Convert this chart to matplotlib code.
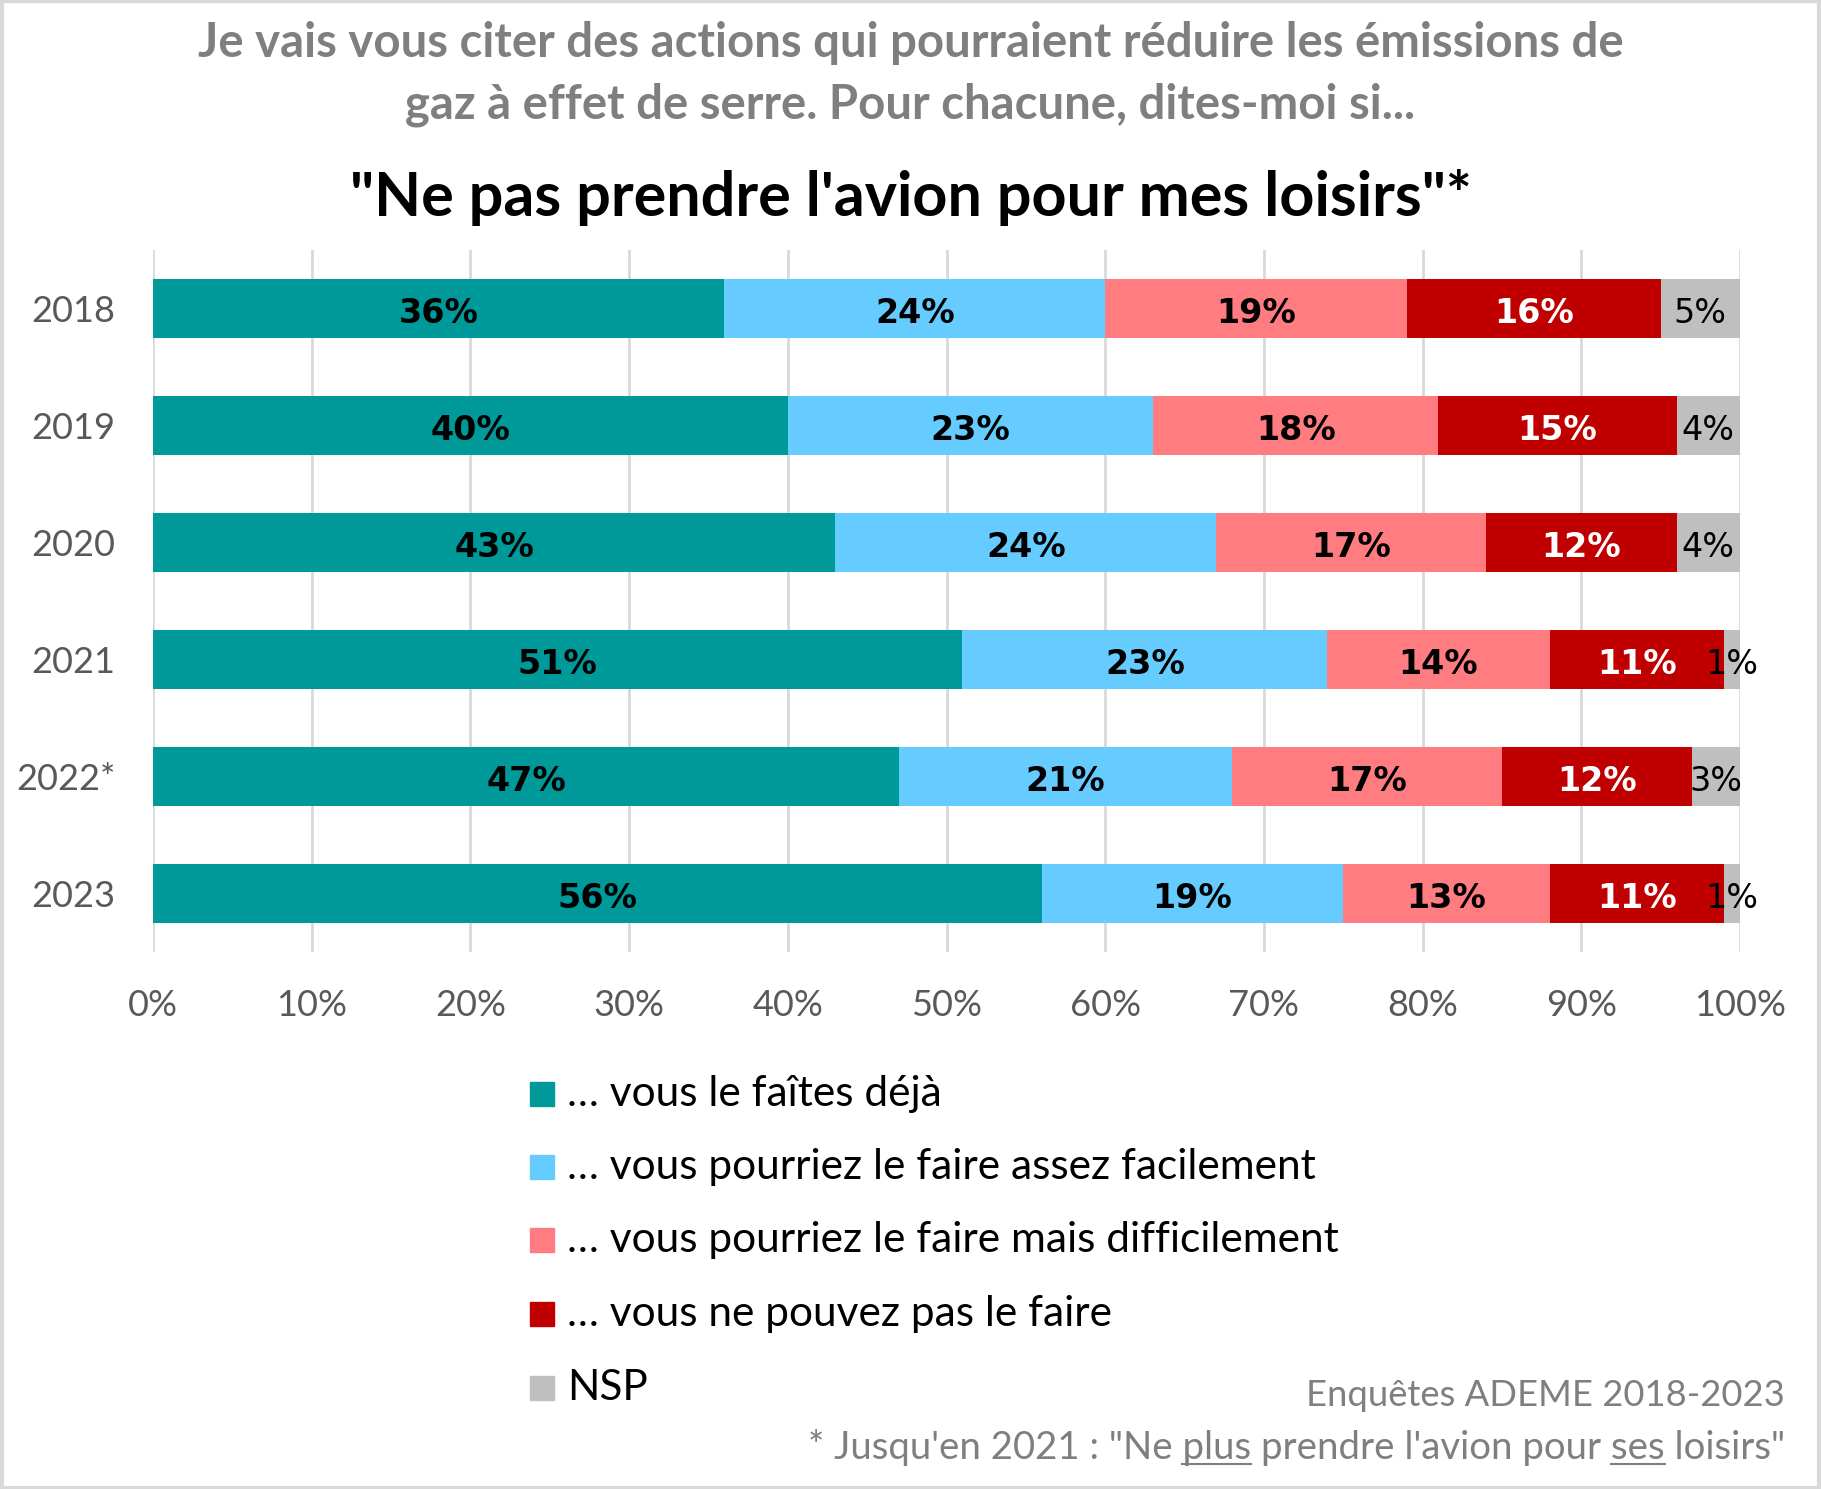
import matplotlib.pyplot as plt
from matplotlib.patches import Rectangle
import numpy as np

# Données
annees = ['2018', '2019', '2020', '2021', '2022*', '2023']
deja = [36, 40, 43, 51, 47, 56]
facile = [24, 23, 24, 23, 21, 19]
difficile = [19, 18, 17, 14, 17, 13]
impossible = [16, 15, 12, 11, 12, 11]
nsp = [5, 4, 4, 1, 3, 1]

series = [deja, facile, difficile, impossible, nsp]
legende = ['… vous le faîtes déjà',
           '… vous pourriez le faire assez facilement',
           '… vous pourriez le faire mais difficilement',
           '… vous ne pouvez pas le faire',
           'NSP']
couleurs = ['#009999', '#66CCFF', '#FF7C80', '#C00000', '#BFBFBF']
couleurs_txt = ['black', 'black', 'black', 'white', 'black']

W, H = 1821, 1489
fig = plt.figure(figsize=(W / 100, H / 100), dpi=100)
police = 'Lato'


def fx(px):
    return px / W


def fy(py):
    return 1 - py / H


ax = fig.add_axes([fx(153), fy(952), fx(1740) - fx(153), fy(250) - fy(952)])
y = np.arange(len(annees))
gauche = np.zeros(len(annees))
for k, vals in enumerate(series):
    vals = np.array(vals, dtype=float)
    ax.barh(y, vals, left=gauche, height=0.5, color=couleurs[k], zorder=3)
    for i, v in enumerate(vals):
        poids = 'normal' if k == 4 else 'bold'
        ax.text(gauche[i] + v / 2, y[i] + 0.04, f'{int(v)}%', ha='center', va='center',
                color=couleurs_txt[k], fontsize=24, fontweight=poids,
                family='DejaVu Sans', zorder=4)
    gauche += vals

ax.set_xlim(0, 100)
ax.set_ylim(5.5, -0.5)
ax.set_yticks(y)
ax.set_yticklabels(annees)
ax.set_xticks(np.arange(0, 101, 10))
ax.set_xticklabels([f'{v}%' for v in range(0, 101, 10)])
for s in ax.spines.values():
    s.set_visible(False)
ax.grid(axis='x', color='#D9D9D9', lw=2, zorder=0)
ax.tick_params(length=0, labelsize=26, labelcolor='#595959')
ax.tick_params(axis='y', pad=27)
ax.tick_params(axis='x', pad=27)
for lab in ax.get_xticklabels() + ax.get_yticklabels():
    lab.set_family(police)

# Titres
fig.text(0.5, fy(43), 'Je vais vous citer des actions qui pourraient réduire les émissions de',
         ha='center', va='center', fontsize=34, fontweight='bold', color='#7F7F7F', family=police)
fig.text(0.5, fy(105), 'gaz à effet de serre. Pour chacune, dites-moi si...',
         ha='center', va='center', fontsize=34, fontweight='bold', color='#7F7F7F', family=police)
fig.text(0.5, fy(197), '"Ne pas prendre l\'avion pour mes loisirs"*',
         ha='center', va='center', fontsize=44, fontweight='bold', color='black', family=police)

# Légende
ly = [1094, 1167, 1240, 1314, 1388]
for k, lab in enumerate(legende):
    fig.patches.append(Rectangle((fx(530), fy(ly[k] + 12)), fx(24), fy(ly[k] - 12) - fy(ly[k] + 12),
                                 transform=fig.transFigure, color=couleurs[k]))
    fig.text(fx(567), fy(ly[k]), lab, ha='left', va='center', fontsize=30.5,
             color='black', family=police)

# Sources
fig.text(fx(1785), fy(1395), 'Enquêtes ADEME 2018-2023', ha='right', va='center',
         fontsize=26.2, color='#7F7F7F', family=police)
taille_note = 27.6
note = '* Jusqu\'en 2021 : "Ne plus prendre l\'avion pour ses loisirs"'
t = fig.text(fx(1785), fy(1447), note, ha='right', va='center',
             fontsize=taille_note, color='#7F7F7F', family=police)
rend = fig.canvas.get_renderer()
bb = t.get_window_extent(rend)


def largeur(s):
    tt = fig.text(0, 0, s, fontsize=taille_note, family=police)
    w = tt.get_window_extent(rend).width
    tt.remove()
    return w


for mot, avant in [('plus', '* Jusqu\'en 2021 : "Ne '),
                   ('ses', '* Jusqu\'en 2021 : "Ne plus prendre l\'avion pour ')]:
    x0 = bb.x0 + largeur(avant)
    x1 = x0 + largeur(mot)
    yl = bb.y0 + 2
    fig.add_artist(plt.Line2D([x0 / W, x1 / W], [yl / H, yl / H], transform=fig.transFigure,
                              color='#7F7F7F', lw=1.5))

# Cadre
fig.patches.append(Rectangle((0.001, 0.001), 0.998, 0.998, transform=fig.transFigure,
                             fill=False, edgecolor='#D9D9D9', lw=3))

fig.savefig('out.png', dpi=100)
